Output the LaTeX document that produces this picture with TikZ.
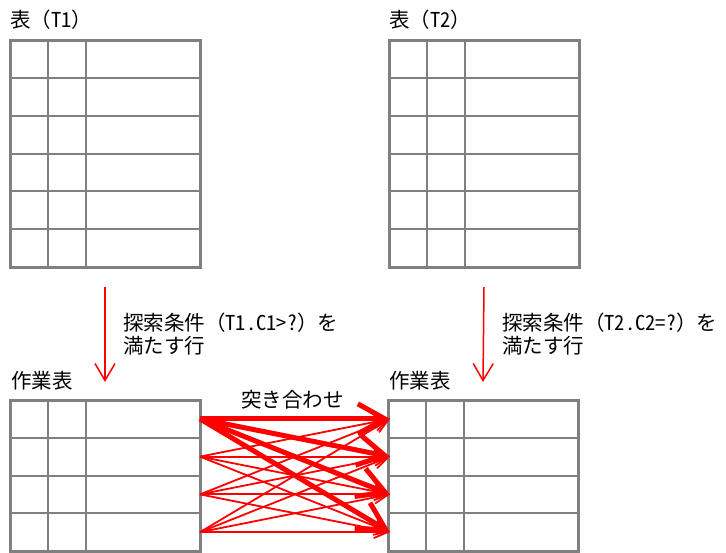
\documentclass[tikz,border=0pt]{standalone}
\usepackage{fontspec}
\newfontfamily\jp{Noto Sans CJK JP}
\newfontfamily\jph[RawFeature=+hwid]{Noto Sans CJK JP}
\usetikzlibrary{calc,arrows.meta}
\definecolor{tgray}{RGB}{128,128,128}
\begin{document}
\begin{tikzpicture}[x=1pt,y=-1pt,
  tbl/.style={draw=tgray,line width=3pt,minimum width=190pt,inner sep=0pt,outer sep=0pt,anchor=north west},
  gridln/.style={draw=tgray,line width=2pt},
  lbl/.style={inner sep=0pt,anchor=base west,font=\jp\fontsize{20.5}{24}\selectfont},
  selarrow/.style={draw=red,line width=1.5pt,-{Straight Barb[length=17pt,width=20pt]}},
  thinjoin/.style={draw=red,line width=1.8pt,-{Straight Barb[length=14pt,width=12pt]}},
  thickjoin/.style={draw=red,line width=5pt,-{Straight Barb[length=27pt,width=30pt]}},
]
\useasboundingbox (0,0) rectangle (726,552);
\clip (0,0) rectangle (726,552);

% tables
\node[tbl,minimum height=227pt] (t1) at (10,40) {};
\node[tbl,minimum height=227pt] (t2) at (389,40) {};
\node[tbl,minimum height=151pt] (w1) at (10,400) {};
\node[tbl,minimum height=151pt] (w2) at (388,400) {};

\foreach \t/\n in {t1/6,t2/6,w1/4,w2/4} {
  \draw[gridln] ($(\t.north west)+(38,0)$) -- ($(\t.south west)+(38,0)$);
  \draw[gridln] ($(\t.north west)+(76,0)$) -- ($(\t.south west)+(76,0)$);
  \pgfmathtruncatemacro\m{\n-1}
  \foreach \i in {1,...,\m} {
    \draw[gridln] ($(\t.north west)!{\i/\n}!(\t.south west)$) -- ($(\t.north east)!{\i/\n}!(\t.south east)$);
  }
}

% row anchors of the work tables
\foreach \i in {1,...,4} {
  \coordinate (L\i) at ($(w1.north east)!{(2*\i-1)/8}!(w1.south east)$);
  \coordinate (R\i) at ($(w2.north west)!{(2*\i-1)/8}!(w2.south west)+(2,0)$);
}

% join arrows
\foreach \s in {2,3,4} {
  \foreach \e in {1,...,4} {
    \draw[thinjoin] (L\s) -- (R\e);
  }
}
\foreach \e in {1,...,4} {
  \draw[thickjoin] (L1) -- (R\e);
}

% selection arrows
\coordinate (s1) at ($(t1.south)+(0,20)$);
\coordinate (e1) at ($(w1.north)+(0,-18)$);
\coordinate (s2) at ($(t2.south)+(0,20)$);
\coordinate (e2) at ($(w2.north)+(0,-18)$);
\draw[selarrow] (s1) -- (e1);
\draw[selarrow] (s2) -- (e2);

% labels
\node[lbl] (t1lbl) at (10,27) {表（{\jph T1}）};
\node[lbl] (t2lbl) at (389,27) {表（{\jph T2}）};
\node[lbl] (c1a) at (123,330) {探索条件（{\jph T1.C1>?}）を};
\node[lbl] (c1b) at (123,353) {満たす行};
\node[lbl] (c2a) at (502,330) {探索条件（{\jph T2.C2=?}）を};
\node[lbl] (c2b) at (502,353) {満たす行};
\node[lbl] (w1lbl) at (11,388) {作業表};
\node[lbl] (w2lbl) at (389,388) {作業表};
\node[lbl] (joinlbl) at (241,407) {突き合わせ};
\end{tikzpicture}
\end{document}
